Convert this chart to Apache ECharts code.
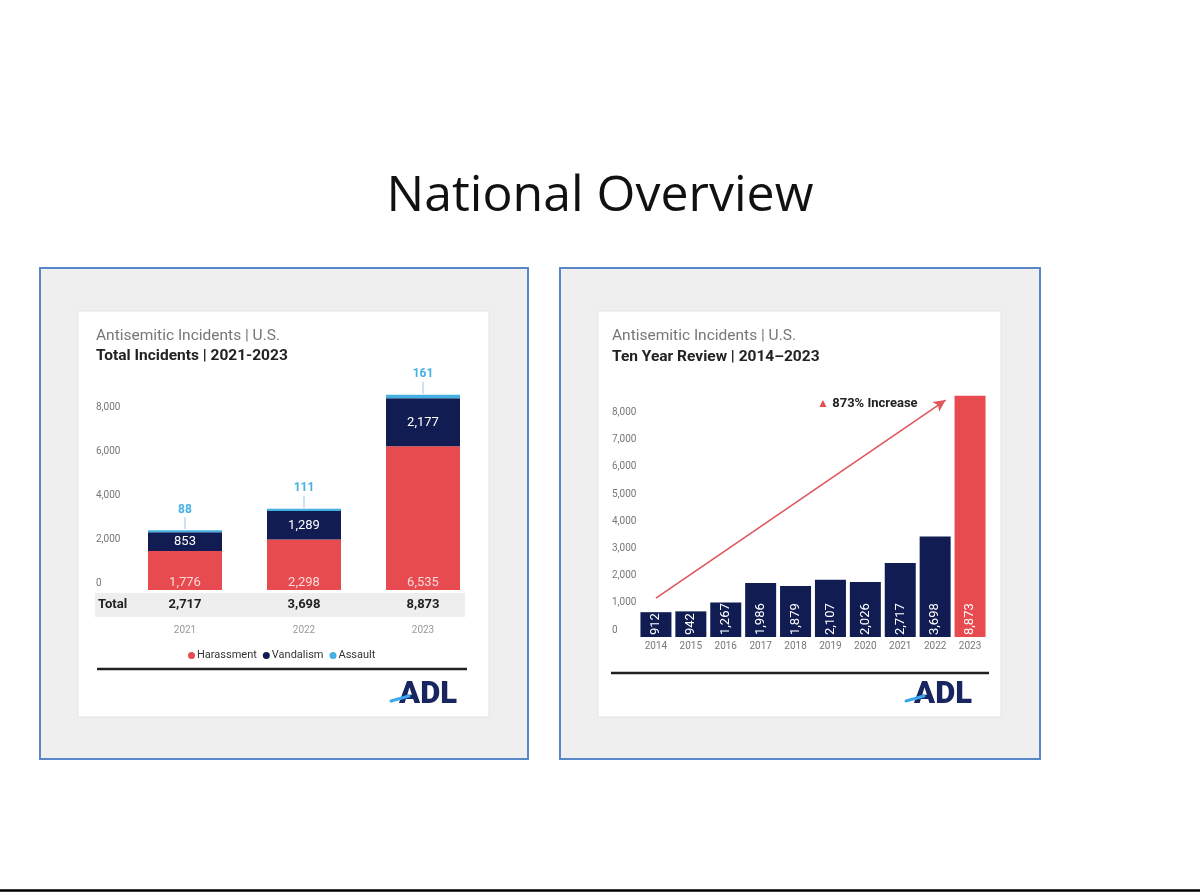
<!DOCTYPE html>
<html><head><meta charset="utf-8">
<script src="https://cdn.jsdelivr.net/npm/echarts@6/dist/echarts.min.js"></script>
<style>html,body{margin:0;padding:0;background:#fff;}#c{width:1200px;height:893px;}</style>
</head><body><div id="c"></div>
<script>
// ---- data ----
const years3 = ['2021', '2022', '2023'];
const harassment = [1776, 2298, 6535];
const vandalism = [853, 1289, 2177];
const assault = [88, 111, 161];
const totals = [2717, 3698, 8873];
const years10 = ['2014', '2015', '2016', '2017', '2018', '2019', '2020', '2021', '2022', '2023'];
const incidents10 = [912, 942, 1267, 1986, 1879, 2107, 2026, 2717, 3698, 8873];
const arrowStart = [0, 1430];
const arrowEnd = [8.3, 8710];
const increaseLabel = '873% Increase';

const RED = '#e84b4f', NAVY = '#111d52', BLUE = '#45b1e3';
const fmt = v => Number(v).toLocaleString('en-US');
const F = 'Roboto, "Noto Sans", sans-serif';

const chart = echarts.init(document.getElementById('c'), null, {renderer: 'canvas'});
chart.setOption({
  animation: false,
  backgroundColor: '#ffffff',
  textStyle: {fontFamily: F},
  legend: {
    data: ['Harassment', 'Vandalism', 'Assault'],
    left: 183, top: 645, icon: 'circle', itemWidth: 7, itemHeight: 7, itemGap: 6,
    selectedMode: false, textStyle: {fontSize: 11, color: '#333', fontFamily: F, padding: [0, 0, 0, -3]}
  },
  grid: [
    {left: 125.5, top: 370, width: 357, height: 220},
    {left: 638.5, top: 392.2, width: 349, height: 244.8}
  ],
  xAxis: [
    {type: 'category', data: years3, gridIndex: 0, position: 'bottom',
     axisLine: {show: false}, axisTick: {show: false},
     axisLabel: {margin: 8, verticalAlign: 'top',
       formatter: (v, i) => '{t|' + fmt(totals[i]) + '}\n{y|' + v + '}',
       rich: {t: {fontSize: 13, fontWeight: 'bold', color: '#222', lineHeight: 14, fontFamily: F},
              y: {fontSize: 10, color: '#999', lineHeight: 36, fontFamily: F}}}},
    {type: 'category', data: years10, gridIndex: 1,
     axisLine: {show: false}, axisTick: {show: false},
     axisLabel: {margin: 4, fontSize: 10, color: '#777'}},
    {type: 'value', gridIndex: 1, min: -0.5, max: 9.5, show: false}
  ],
  yAxis: [
    {type: 'value', gridIndex: 0, min: 0, max: 10000, interval: 2000,
     splitLine: {show: false}, axisLine: {show: false}, axisTick: {show: false},
     axisLabel: {showMaxLabel: false, align: 'left', margin: 29.5, verticalAlign: 'bottom',
       padding: [0, 0, 2, 0], fontSize: 10, color: '#777', formatter: v => fmt(v)}},
    {type: 'value', gridIndex: 1, min: 0, max: 9000, interval: 1000,
     splitLine: {show: false}, axisLine: {show: false}, axisTick: {show: false},
     axisLabel: {showMaxLabel: false, align: 'left', margin: 26.5, verticalAlign: 'bottom',
       padding: [0, 0, 2, 0], fontSize: 10, color: '#777', formatter: v => fmt(v)}}
  ],
  series: [
    {name: 'Harassment', type: 'bar', stack: 'a', xAxisIndex: 0, yAxisIndex: 0, barWidth: 74,
     data: harassment, itemStyle: {color: RED},
     label: {show: true, position: 'insideBottom', distance: 1, fontSize: 13, color: '#fbd9d9', formatter: p => fmt(p.value)}},
    {name: 'Vandalism', type: 'bar', stack: 'a', xAxisIndex: 0, yAxisIndex: 0, barWidth: 74,
     data: vandalism, itemStyle: {color: NAVY},
     label: {show: true, position: 'inside', fontSize: 13, color: '#fff', formatter: p => fmt(p.value)}},
    {name: 'Assault', type: 'bar', stack: 'a', xAxisIndex: 0, yAxisIndex: 0, barWidth: 74,
     data: assault, itemStyle: {color: BLUE},
     label: {show: true, position: 'top', distance: 1,
       formatter: p => '{v|' + fmt(p.value) + '}\n{l|}',
       rich: {v: {fontSize: 12, fontWeight: 'bold', color: BLUE, lineHeight: 15, fontFamily: F},
              l: {width: 1, height: 12, backgroundColor: '#8ccbe9'}}}},
    {name: 'Ten Year', type: 'bar', xAxisIndex: 1, yAxisIndex: 1, barWidth: 31,
     data: incidents10,
     itemStyle: {color: p => p.dataIndex === incidents10.length - 1 ? RED : NAVY},
     label: {show: true, position: 'insideBottom', distance: 2, rotate: 90, align: 'left', verticalAlign: 'middle',
       fontSize: 13, color: '#fff',
       formatter: p => fmt(p.value)}},
    {name: 'Arrow', type: 'line', xAxisIndex: 2, yAxisIndex: 1,
     data: [arrowStart, arrowEnd], showSymbol: false, symbol: 'none',
     lineStyle: {opacity: 0}, silent: true,
     markLine: {silent: true, symbol: ['none', 'arrow'], symbolSize: [9, 12],
       lineStyle: {color: '#e0565a', width: 1.6, type: 'solid'}, label: {show: false},
       data: [[{coord: arrowStart}, {coord: arrowEnd}]]}}
  ],
  graphic: [
    // panels
    {type: 'rect', z: -10, shape: {x: 40, y: 268, width: 488, height: 491}, style: {fill: '#efefef', stroke: '#5a87c8', lineWidth: 2}},
    {type: 'rect', z: -10, shape: {x: 560, y: 268, width: 480, height: 491}, style: {fill: '#efefef', stroke: '#5a87c8', lineWidth: 2}},
    {type: 'rect', z: -9, shape: {x: 78, y: 311, width: 411, height: 406}, style: {fill: '#ffffff', stroke: '#e4e4e4', lineWidth: 1}},
    {type: 'rect', z: -9, shape: {x: 598, y: 311, width: 403, height: 406}, style: {fill: '#ffffff', stroke: '#e4e4e4', lineWidth: 1}},
    {type: 'rect', z: -8, shape: {x: 95, y: 593, width: 370, height: 24}, style: {fill: '#eeeeee'}},
    // slide title
    {type: 'text', x: 600, y: 197, style: {text: 'National Overview', font: '50px "Open Sans", sans-serif', fill: '#111', align: 'center', verticalAlign: 'middle'}},
    // left card texts
    {type: 'text', x: 96, y: 336, style: {text: 'Antisemitic Incidents | U.S.', font: '15.5px Roboto, sans-serif', fill: '#777', verticalAlign: 'middle'}},
    {type: 'text', x: 96, y: 356, style: {text: 'Total Incidents | 2021-2023', font: 'bold 15.5px Roboto, sans-serif', fill: '#222', verticalAlign: 'middle'}},
    {type: 'text', x: 98, y: 605, style: {text: 'Total', font: 'bold 13px Roboto, sans-serif', fill: '#222', verticalAlign: 'middle'}},
    {type: 'line', shape: {x1: 97, y1: 669, x2: 467, y2: 669}, style: {stroke: '#222', lineWidth: 2.5}},
    // right card texts
    {type: 'text', x: 612, y: 336, style: {text: 'Antisemitic Incidents | U.S.', font: '15.5px Roboto, sans-serif', fill: '#777', verticalAlign: 'middle'}},
    {type: 'text', x: 612, y: 357, style: {text: 'Ten Year Review | 2014\u20132023', font: 'bold 15.5px Roboto, sans-serif', fill: '#222', verticalAlign: 'middle'}},
    {type: 'text', x: 817, y: 404, style: {
      text: '{a|\u25B2} {b|' + increaseLabel + '}', verticalAlign: 'middle',
      rich: {a: {fill: RED, font: '12px sans-serif'}, b: {fill: '#222', font: 'bold 13px Roboto, sans-serif'}}}},
    {type: 'line', shape: {x1: 611, y1: 673, x2: 989, y2: 673}, style: {stroke: '#222', lineWidth: 2.5}},
    // logos
    {type: 'text', x: 428, y: 695, style: {text: 'ADL', font: '900 31px Roboto, sans-serif', fill: '#172660', align: 'center', verticalAlign: 'middle'}},
    {type: 'line', shape: {x1: 391, y1: 701, x2: 409, y2: 696}, style: {stroke: '#3aa7ee', lineWidth: 3, lineCap: 'round'}},
    {type: 'text', x: 943, y: 695, style: {text: 'ADL', font: '900 31px Roboto, sans-serif', fill: '#172660', align: 'center', verticalAlign: 'middle'}},
    {type: 'line', shape: {x1: 906, y1: 701, x2: 924, y2: 696}, style: {stroke: '#3aa7ee', lineWidth: 3, lineCap: 'round'}},
    // bottom rule
    {type: 'line', shape: {x1: 0, y1: 890.5, x2: 1200, y2: 890.5}, style: {stroke: '#000', lineWidth: 2.5}}
  ]
});
</script>
</body></html>
